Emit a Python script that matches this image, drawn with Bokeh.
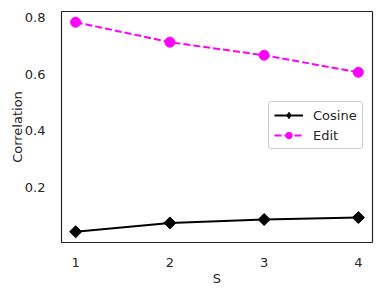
import math
from bokeh.plotting import figure
from bokeh.models import Range1d, FixedTicker, Legend, LegendItem
from bokeh.embed import file_html
from bokeh.resources import INLINE

s_vals = [1, 2, 3, 4]
cosine = [0.046, 0.077, 0.089, 0.096]
edit = [0.782, 0.712, 0.666, 0.606]
x_ticks = [1, 2, 3, 4]
y_ticks = [0.2, 0.4, 0.6, 0.8]

TXT = "#262626"
FONT = "DejaVu Sans"
FS = "13px"

p = figure(width=381, height=295, output_backend="svg", toolbar_location=None,
           min_border_left=61, min_border_right=9, min_border_top=11, min_border_bottom=53,
           x_range=Range1d(0.85, 4.15), y_range=Range1d(0.0083, 0.8197))
p.background_fill_color = "white"
p.border_fill_color = "white"
p.outline_line_color = TXT
p.outline_line_width = 1.2
p.grid.visible = False

for ax in (p.xaxis[0], p.yaxis[0]):
    ax.axis_line_color = None
    ax.major_tick_line_color = None
    ax.minor_tick_line_color = None
    ax.major_label_text_font = FONT
    ax.major_label_text_font_size = FS
    ax.major_label_text_color = TXT
    ax.axis_label_text_font = FONT
    ax.axis_label_text_font_size = FS
    ax.axis_label_text_color = TXT
    ax.axis_label_text_font_style = "normal"

p.xaxis.ticker = FixedTicker(ticks=x_ticks)
p.yaxis.ticker = FixedTicker(ticks=y_ticks)
p.xaxis.axis_label = "S"
p.yaxis.axis_label = "Correlation"
p.xaxis.major_label_standoff = 9
p.yaxis.major_label_standoff = 10
p.xaxis.axis_label_standoff = 1
p.yaxis.axis_label_standoff = -3

l1 = p.line(s_vals, cosine, line_color="black", line_width=2)
m1 = p.scatter(s_vals, cosine, marker="square", size=8.5, angle=math.pi / 4,
               fill_color="black", line_color="black")
m1_leg = p.scatter(s_vals, cosine, marker="diamond", size=12,
                   fill_color="black", line_color="black", visible=False)
l2 = p.line(s_vals, edit, line_color="#ff00ff", line_width=2, line_dash="7 3")
m2 = p.scatter(s_vals, edit, marker="circle", size=10, fill_color="#ff00ff", line_color="#ff00ff")

legend = Legend(items=[LegendItem(label="Cosine", renderers=[l1, m1_leg]),
                       LegendItem(label="Edit", renderers=[l2, m2])],
                location=(207, 93))
legend.label_text_font = FONT
legend.label_text_font_size = FS
legend.label_text_color = TXT
legend.border_line_color = "#cccccc"
legend.border_line_alpha = 1
legend.background_fill_alpha = 0.9
legend.glyph_width = 29
legend.glyph_height = 16
legend.label_height = 16
legend.spacing = 4
legend.padding = 5
legend.margin = 0
legend.label_standoff = 10
legend.border_radius = 3
p.add_layout(legend, "center")

open("out.html", "w").write(file_html(p, INLINE))
